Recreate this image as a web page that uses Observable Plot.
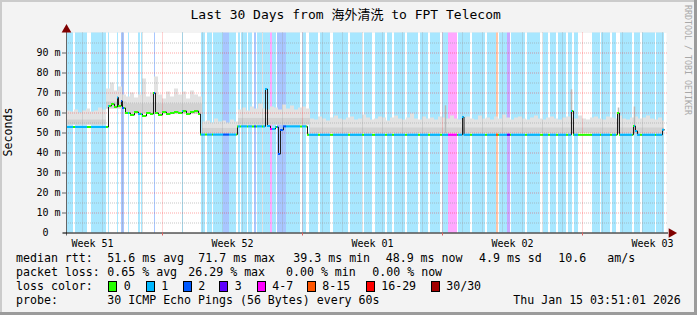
<!DOCTYPE html>
<html><head><meta charset="utf-8">
<script src="https://cdn.jsdelivr.net/npm/d3@7"></script>
<script src="https://cdn.jsdelivr.net/npm/@observablehq/plot@0.6"></script>
<style>
html,body{margin:0;padding:0;background:#fff;}
#frame{position:relative;width:697px;height:315px;background:#f3f3f3;overflow:hidden;font-family:"DejaVu Sans Mono","Noto Sans CJK SC",monospace;color:#000;}
.abs{position:absolute;white-space:pre;line-height:1;}
#chart{position:absolute;left:0;top:0;}
.bar{position:absolute;}
</style>
</head><body>
<div id="frame">
  <div id="chart"></div>
</div>
<script>
// ---------------- data ----------------
const titleText = "Last 30 Days from 海外清洗 to FPT Telecom";
const yLabel = "Seconds";
const watermark = "RRDTOOL / TOBI OETIKER";

// time in days from the left edge of the graph (30 days shown)
const weekDays = [1.3, 8.3, 15.3, 22.3, 29.3];
const weekLabels = ["Week 51", "Week 52", "Week 01", "Week 02", "Week 03"];
const majorDays = [4.8, 11.8, 18.8, 25.8];
const yTicks = [0, 10, 20, 30, 40, 50, 60, 70, 80, 90];

// loss colors / labels
const lossLabels = ["0", "1", "2", "3", "4-7", "8-15", "16-29", "30/30"];
const lossColors = ["#26ff00", "#00b8ff", "#0059ff", "#5e00ff", "#ff00ff", "#ff5500", "#ff0000", "#a10000"];

// loss runs (background bands + median colour)
const lossStart = [0,0.45,1.25,2.1,2.55,2.75,3.1,3.6,3.75,4.4,5.8,6.75,7.05,7.35,7.85,8.15,8.6,8.75,9.1,9.4,9.55,9.85,10.2,10.3,10.55,11.0,11.8,12.15,12.7,13.35,14.2,14.9,15.45,16.05,16.4,17.05,17.7,18.2,18.8,19.1,19.6,20.3,21.05,21.5,21.65,22.05,22.25,23.05,23.85,24.2,24.6,25.1,25.4,26.3,26.75,27.3,27.7,28.4,28.8,29.5];
const lossEnd   = [0.35,1.05,2.0,2.15,2.6,2.9,3.15,3.7,3.8,4.45,5.85,6.95,7.3,7.85,8.15,8.5,8.7,9.05,9.3,9.5,9.8,10.2,10.3,10.5,11.0,11.7,12.0,12.6,13.2,14.1,14.8,15.3,15.95,16.3,16.95,17.6,18.1,18.7,19.1,19.55,20.2,20.95,21.5,21.6,22.05,22.2,22.95,23.7,24.1,24.5,25.0,25.3,25.6,26.7,27.2,27.5,28.3,28.7,29.45,29.9];
const lossLevel = [1,1,1,1,1,2,1,1,1,2,1,1,1,1,2,1,1,1,1,2,1,1,4,1,2,1,1,1,1,1,1,1,1,1,1,1,1,1,1,4,1,1,1,5,1,3,1,1,1,1,1,1,1,1,1,1,1,1,1,1];

// median rtt (ms), step changes
const medT = [0,2.1,2.25,2.4,2.55,2.6,2.75,2.8,2.95,3.2,3.4,3.6,3.8,4.0,4.2,4.35,4.45,4.6,4.8,5.0,5.2,5.4,5.6,5.8,6.0,6.2,6.4,6.6,6.7,8.55,9.95,10.05,10.2,10.45,10.6,10.7,10.85,12.05,19.8,19.875,25.25,25.35,27.55,27.65,28.35,28.45,28.55,29.8,29.9];
const medV = [53.0,63.5,64.5,63.0,67.8,63.5,66.0,62.5,60.0,59.0,60.5,59.5,58.5,60.0,59.5,70.0,60.0,59.0,60.5,59.5,60.0,60.5,60.0,61.0,59.5,60.5,61.0,59.5,49.2,53.3,72.0,53.5,52.0,53.0,39.5,51.5,53.3,49.1,58.0,49.1,61.0,49.1,60.0,49.1,53.5,51.0,49.1,51.6,51.6];

// smoke: upper edge per 0.2-day bin (ms)
const smokeHi = [
 61,60.5,61.5,60,61,62,60.5,61,62.5,61.5,
 72,75,71,73,69,
 68,70,67.5,69,77,68,70,78,69,67,70.5,68,72,69,70.5,67,71,69,68,
 55.5,56,55,57,55.5,56,55,56.5,55.5,
 61.5,62.5,61,63,62,64.5,62,61.5,63,62.5,61.5,64,62,63.5,61.5,62.5,63,62,
 57,56.5,58,57,56,57.5,58.5,57,56.5,57.5,
 58,56.5,57,59,57.5,56.5,57,58,57.5,56,
 57.5,58.5,57,56.5,57.5,59.5,57,56.5,58,57,
 57.5,56.5,58,57.5,57,58.5,57,56.5,57.5,58,
 57,56.5,58.5,57,57.5,56.5,58,57,59,57.5,
 56.5,57.5,58,57,56.5,57.5,58.5,57,56.5,57.5,
 58,57,56.5,57.5,58,57.5,57,58.5,57,56.5,
 57.5,58,57,56.5,58,57.5,57,58.5,57,56.5,
 57.5,58,57,57.5,58.5,57,56.5,57.5,56];
const smokeRegFirstBin = [0, 10, 15, 34, 43, 61];
const smokeRegLo  = [54.0, 62.0, 59.5, 49.8, 54.0, 49.8];
const smokeRegMid = [56.5, 65.5, 64.5, 52.3, 57.3, 52.5];
const spikeT   = [18.95, 25.25, 27.6, 28.4];
const spikeTop = [63.6, 71.6, 62.5, 63.0];
const dataEnd = 29.9;

// legend texts
const rttStats  = ["51.6 ms avg", "71.7 ms max", "39.3 ms min", "48.9 ms now", "4.9 ms sd", "10.6", "am/s"];
const lossStats = ["0.65 % avg", "26.29 % max", "0.00 % min", "0.00 % now"];
const probeText = "30 ICMP Echo Pings (56 Bytes) every 60s";
const stampText = "Thu Jan 15 03:51:01 2026";

// ---------------- derived drawing tables ----------------
const binW = 0.2;
const bands = lossStart.map((s, i) => ({a: s, b: lossEnd[i], l: lossLevel[i]}));
function lossAt(t) { for (let i = 0; i < lossStart.length; i++) if (t >= lossStart[i] && t < lossEnd[i]) return lossLevel[i]; return 0; }
function medAt(t) { let v = medV[0]; for (let i = 0; i < medT.length; i++) { if (medT[i] <= t) v = medV[i]; else break; } return v; }
function regOf(i) { let r = 0; for (let k = 0; k < smokeRegFirstBin.length; k++) if (i >= smokeRegFirstBin[k]) r = k; return r; }
const smokeBins = smokeHi.map((h, i) => ({a: i * binW, b: Math.min((i + 1) * binW, dataEnd), lo: smokeRegLo[regOf(i)], hi: h}));
const smokeMid = smokeRegFirstBin.map((f, k) => ({a: f * binW, b: k + 1 < smokeRegFirstBin.length ? smokeRegFirstBin[k + 1] * binW : dataEnd, lo: smokeRegLo[k], hi: smokeRegMid[k]}));
const spikes = spikeT.map((t, i) => ({t, top: spikeTop[i]}));
const cuts = Array.from(new Set([...medT, ...lossStart, ...lossEnd])).filter(t => t <= dataEnd).sort((a, b) => a - b);
const segs = [];
for (let i = 0; i < cuts.length - 1; i++) {
  const a = cuts[i], b = cuts[i + 1];
  if (b <= a) continue;
  const m = (a + b) / 2;
  segs.push({a, b, v: medAt(m), l: lossAt(m)});
}
const medPts = medT.map((t, i) => ({t, v: medV[i]}));
const minorDays = d3.range(0.8, 30, 1).filter(d => !majorDays.some(m => Math.abs(m - d) < 1e-6));
const minorMs = d3.range(5, 100, 10);
const majorMs = d3.range(10, 100, 10);
const weekMap = new Map(weekDays.map((d, i) => [d, weekLabels[i]]));

const plot = Plot.plot({
  width: 697, height: 250,
  marginLeft: 66, marginRight: 31, marginTop: 32.5, marginBottom: 17.5,
  x: {domain: [0, 30], axis: null},
  y: {domain: [0, 100], axis: null},
  style: {background: "transparent", fontFamily: "DejaVu Sans Mono", fontSize: "10px", color: "#000", overflow: "visible"},
  marks: [
    Plot.frame({fill: "white", stroke: null}),
    Plot.rect(bands, {x1: "a", x2: "b", y1: 0, y2: 100, fill: d => lossColors[d.l], fillOpacity: 0.34}),
    Plot.rect(smokeBins, {x1: "a", x2: "b", y1: "lo", y2: "hi", fill: "#e2e2e2"}),
    Plot.rect(smokeMid, {x1: "a", x2: "b", y1: "lo", y2: "hi", fill: "#d2d2d2"}),
    Plot.ruleX(spikes, {x: "t", y1: 49.8, y2: "top", stroke: "#b8b8b8", strokeWidth: 1.5}),
    Plot.ruleY(minorMs, {stroke: "#9a9a9a", strokeOpacity: 0.55, strokeDasharray: "1,1", insetRight: -2}),
    Plot.ruleX(minorDays, {stroke: "#9a9a9a", strokeOpacity: 0.55, strokeDasharray: "1,1"}),
    Plot.ruleY(majorMs, {stroke: "#ff0000", strokeOpacity: 0.35, strokeDasharray: "1,1", insetRight: -2}),
    Plot.ruleX(majorDays, {stroke: "#ff0000", strokeOpacity: 0.35, strokeDasharray: "1,1"}),
    Plot.line(medPts, {x: "t", y: "v", curve: "step-after", stroke: "#1e1e1e", strokeWidth: 1}),
    Plot.ruleY(segs, {x1: "a", x2: "b", y: "v", stroke: d => lossColors[d.l], strokeWidth: 2}),
    Plot.ruleX([0], {stroke: "#666", insetTop: -2, insetBottom: -3}),
    Plot.ruleY([0], {stroke: "#000", insetLeft: -3, insetRight: -2}),
    Plot.axisY(yTicks, {tickSize: 4, tickPadding: 2, stroke: "#666", label: null,
      tickFormat: d => d === 0 ? "0\u00a0\u00a0" : d + " m"}),
    Plot.axisX(majorDays, {tickSize: 3, stroke: "#e06060", tickFormat: () => "", label: null}),
    Plot.axisX(weekDays, {tickSize: 0, tickPadding: 7, label: null, tickFormat: d => weekMap.get(d)}),
    Plot.dot([0], {frameAnchor: "top-left", symbol: "triangle", r: 3.6, fill: "#7f0000", stroke: null, dy: -3.3}),
    Plot.dot([0], {frameAnchor: "bottom-right", symbol: "triangle", r: 3.6, fill: "#7f0000", stroke: null, rotate: 90, dx: 5})
  ]
});
document.getElementById("chart").appendChild(plot);

// ---------------- html texts / legend ----------------
const frame = document.getElementById("frame");
function txt(s, x, base, size, extra) {
  const d = document.createElement("div");
  d.className = "abs";
  d.textContent = s;
  d.style.left = x + "px";
  d.style.top = (base - 0.846 * size) + "px";
  d.style.fontSize = size + "px";
  if (extra) Object.assign(d.style, extra);
  frame.appendChild(d);
  return d;
}
txt(titleText, 190.5, 19.3, 13);
txt(yLabel, 9.3, 132, 11.6, {transform: "translate(-50%,-50%) rotate(-90deg)", top: "132px"});
txt(watermark, 684, 5, 8.3, {writingMode: "vertical-rl", top: "5px", color: "#a8a8a8"});

const F = 11.6;
const base = [263.3, 277.0, 290.8, 304.6];
txt("median rtt:", 16, base[0], F);
const rttX = [107.3, 198.3, 293.3, 385.7, 479, 558.3, 607.3];
rttStats.forEach((s, i) => txt(s, rttX[i], base[0], F));
txt("packet loss:", 16, base[1], F);
const lossX = [107.3, 188.3, 286, 372.3];
lossStats.forEach((s, i) => txt(s, lossX[i], base[1], F));
txt("loss color:", 16, base[2], F);
const boxX = [108.3, 145.7, 182.7, 219.3, 256.7, 306.7, 365.7, 430.7];
lossLabels.forEach((s, i) => {
  const b = document.createElement("div");
  b.className = "bar";
  Object.assign(b.style, {left: boxX[i] + "px", top: "281px", width: "9px", height: "11px", boxSizing: "border-box", border: "1px solid #000", background: lossColors[i]});
  frame.appendChild(b);
  txt(s, boxX[i] + 15.5, base[2], F);
});
txt("probe:", 16, base[3], F);
txt(probeText, 107.3, base[3], F);
txt(stampText, 513.3, base[3], F);

// frame shading
[[0, 0, 697, 2, "#cbcbcb"], [0, 0, 2, 315, "#cbcbcb"], [694, 0, 3, 315, "#9b9b9b"], [0, 312, 697, 3, "#9b9b9b"]].forEach(([l, t, w, h, c]) => {
  const b = document.createElement("div");
  b.className = "bar";
  Object.assign(b.style, {left: l + "px", top: t + "px", width: w + "px", height: h + "px", background: c});
  frame.appendChild(b);
});
</script>
</body></html>
